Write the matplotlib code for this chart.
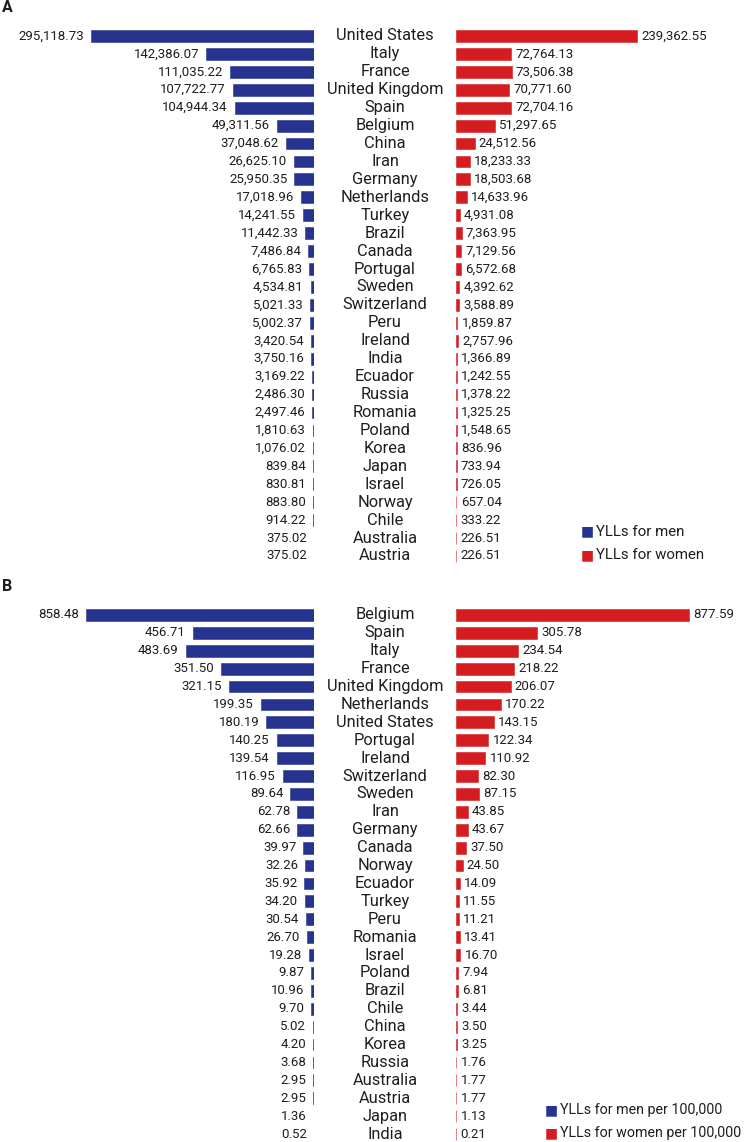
import matplotlib
matplotlib.use('Agg')
import matplotlib.pyplot as plt
from matplotlib.transforms import blended_transform_factory

plt.rcParams['font.family'] = ['Roboto', 'DejaVu Sans']

# panel A: YLLs
countries_a = ['United States', 'Italy', 'France', 'United Kingdom', 'Spain', 'Belgium',
               'China', 'Iran', 'Germany', 'Netherlands', 'Turkey', 'Brazil', 'Canada',
               'Portugal', 'Sweden', 'Switzerland', 'Peru', 'Ireland', 'India', 'Ecuador',
               'Russia', 'Romania', 'Poland', 'Korea', 'Japan', 'Israel', 'Norway', 'Chile',
               'Australia', 'Austria']
men_a = [295118.73, 142386.07, 111035.22, 107722.77, 104944.34, 49311.56, 37048.62,
         26625.10, 25950.35, 17018.96, 14241.55, 11442.33, 7486.84, 6765.83, 4534.81,
         5021.33, 5002.37, 3420.54, 3750.16, 3169.22, 2486.30, 2497.46, 1810.63, 1076.02,
         839.84, 830.81, 883.80, 914.22, 375.02, 375.02]
women_a = [239362.55, 72764.13, 73506.38, 70771.60, 72704.16, 51297.65, 24512.56,
           18233.33, 18503.68, 14633.96, 4931.08, 7363.95, 7129.56, 6572.68, 4392.62,
           3588.89, 1859.87, 2757.96, 1366.89, 1242.55, 1378.22, 1325.25, 1548.65, 836.96,
           733.94, 726.05, 657.04, 333.22, 226.51, 226.51]

# panel B: YLLs per 100,000
countries_b = ['Belgium', 'Spain', 'Italy', 'France', 'United Kingdom', 'Netherlands',
               'United States', 'Portugal', 'Ireland', 'Switzerland', 'Sweden', 'Iran',
               'Germany', 'Canada', 'Norway', 'Ecuador', 'Turkey', 'Peru', 'Romania',
               'Israel', 'Poland', 'Brazil', 'Chile', 'China', 'Korea', 'Russia',
               'Australia', 'Austria', 'Japan', 'India']
men_b = [858.48, 456.71, 483.69, 351.50, 321.15, 199.35, 180.19, 140.25, 139.54, 116.95,
         89.64, 62.78, 62.66, 39.97, 32.26, 35.92, 34.20, 30.54, 26.70, 19.28, 9.87, 10.96,
         9.70, 5.02, 4.20, 3.68, 2.95, 2.95, 1.36, 0.52]
women_b = [877.59, 305.78, 234.54, 218.22, 206.07, 170.22, 143.15, 122.34, 110.92, 82.30,
           87.15, 43.85, 43.67, 37.50, 24.50, 14.09, 11.55, 11.21, 13.41, 16.70, 7.94, 6.81,
           3.44, 3.50, 3.25, 1.76, 1.77, 1.77, 1.13, 0.21]

BLUE = '#26348f'
RED = '#d51c20'
TXT = '#1e1e1e'
W, H = 746, 1142
FS = 9.5

fig = plt.figure(figsize=(W / 100, H / 100), dpi=100)


def panel(tag, countries, men, women, top_px, row_px, max_len_px, leg_x, leg_labels, leg_fs):
    n = len(countries)
    h = n * row_px
    bottom = (H - top_px - h) / H
    scale = max(men) / max_len_px  # units per pixel
    axl = fig.add_axes([0, bottom, 314 / W, h / H])
    axr = fig.add_axes([456 / W, bottom, 290 / W, h / H])
    axl.set_xlim(314 * scale, 0)
    axr.set_xlim(0, 290 * scale)
    y = list(range(n))
    axl.barh(y, men, height=0.66, color=BLUE, edgecolor=BLUE, linewidth=0.4)
    axr.barh(y, women, height=0.66, color=RED, edgecolor=RED, linewidth=0.4)
    fmt = '{:,.2f}'
    for i in range(n):
        axl.annotate(fmt.format(men[i]), (men[i], i), xytext=(-5, 0),
                     textcoords='offset points', ha='right', va='center', fontsize=FS,
                     color=TXT)
        axr.annotate(fmt.format(women[i]), (women[i], i), xytext=(3, 0),
                     textcoords='offset points', ha='left', va='center', fontsize=FS,
                     color=TXT)
    tr = blended_transform_factory(fig.transFigure, axl.transData)
    for i, c in enumerate(countries):
        fig.text(385 / W, i, c, transform=tr, ha='center', va='center',
                 fontsize=11.8, color=TXT)
    for ax in (axl, axr):
        ax.set_ylim(n - 0.5, -0.5)
        ax.axis('off')
    # legend
    for k, (lab, col) in enumerate(zip(leg_labels, [BLUE, RED])):
        yy = n - 2.35 + k * 1.3
        fig.text(leg_x / W, yy, '\u25A0', transform=tr, ha='left', va='center',
                 fontsize=10, color=col, family='DejaVu Sans')
        fig.text((leg_x + 15) / W, yy, lab, transform=tr, ha='left', va='center',
                 fontsize=leg_fs, color=TXT)
    fig.text(2 / W, 1 - (top_px - 19) / H, tag, ha='left', va='center',
             fontsize=11.5, fontweight='bold', color=TXT)


panel('A', countries_a, men_a, women_a, 27, 17.93, 223, 581,
      ['YLLs for men', 'YLLs for women'], 10.8)
panel('B', countries_b, men_b, women_b, 606, 17.9, 228, 545,
      ['YLLs for men per 100,000', 'YLLs for women per 100,000'], 10.3)

fig.savefig('out.png', dpi=100)
